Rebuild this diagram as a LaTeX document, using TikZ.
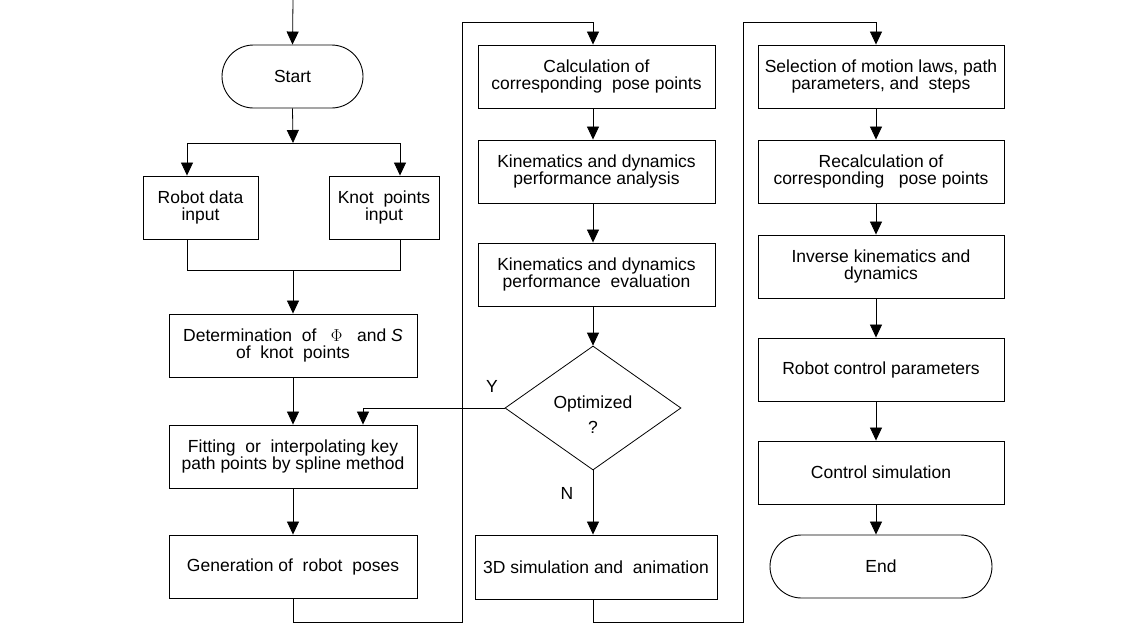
\documentclass[tikz,border=0pt]{standalone}
\usepackage{fontspec}
\setmainfont{Liberation Sans}
\usetikzlibrary{shapes.geometric,shapes.misc,arrows.meta}
\begin{document}
\begin{tikzpicture}[x=1pt,y=-1pt,
  every node/.style={font=\fontsize{17.5}{17}\selectfont, align=center},
  box/.style={draw, line width=0.9pt, minimum height=63pt, inner sep=0pt},
  term/.style={draw, rounded rectangle, line width=0.9pt, minimum height=63pt, inner sep=0pt},
  dec/.style={draw, diamond, line width=0.8pt, minimum width=176pt, minimum height=124pt, inner sep=0pt},
  arr/.style={line width=0.8pt, -{Triangle[length=13pt,width=12pt]}},
  ln/.style={line width=0.8pt},
  lab/.style={font=\fontsize{17.5}{17}\selectfont}]
\useasboundingbox (0,0) rectangle (1141,624);

% left column
\node[term, minimum width=141pt] (start) at (292.5,76.5) {Start};
\node[box, minimum width=115pt] (robot) at (200.5,207.5) {Robot data\\input};
\node[box, minimum width=110pt] (knot) at (384,207.5) {Knot~ points\\input};
\node[box, minimum width=248pt] (det) at (293,345.5) {Determination~ of~~ $\Phi$~~ and \textit{S}\\of~ knot~ points};
\node[box, minimum width=248pt] (fit) at (293,456.5) {Fitting~ or~ interpolating key\\path points by spline method};
\node[box, minimum width=248pt] (gen) at (293,566.5) {Generation of~ robot~ poses};

% middle column
\node[box, minimum width=237pt] (calc) at (596.5,76.5) {Calculation of\\corresponding~ pose points};
\node[box, minimum width=237pt] (kana) at (596.5,171.5) {Kinematics and dynamics\\performance analysis};
\node[box, minimum width=237pt] (keval) at (596.5,274.5) {Kinematics and dynamics\\performance~ evaluation};
\node[dec] (opt) at (593,408) {};
\node (opttxt) at (593,415) {Optimized\\[8pt]?};
\node[box, minimum width=242pt, minimum height=64pt] (sim) at (596,567) {3D simulation and~ animation};

% right column
\node[box, minimum width=246pt] (sel) at (881,76.5) {Selection of motion laws, path\\parameters, and~ steps};
\node[box, minimum width=246pt] (recalc) at (881,171.5) {Recalculation of\\corresponding~~ pose points};
\node[box, minimum width=246pt] (inv) at (881,266.5) {Inverse kinematics and\\dynamics};
\node[box, minimum width=246pt] (rcp) at (881,369.5) {Robot control parameters};
\node[box, minimum width=246pt] (csim) at (881,472.5) {Control simulation};
\node[term, minimum width=222pt] (end) at (881,566.5) {End};

% labels
\node[lab] (ylab) at (492,386) {Y};
\node[lab] (nlab) at (567,493) {N};

% connectors left
\coordinate (top) at (293,0);
\draw[arr] (top) -- (start.north);
\coordinate (split) at (293,143);
\draw[arr] (start.south) -- (split);
\coordinate (sL) at (187,143);
\coordinate (sR) at (400,143);
\draw[ln] (sL) -- (sR);
\draw[arr] (sL) -- (sL |- robot.north);
\draw[arr] (sR) -- (sR |- knot.north);
\coordinate (mL) at (187,270);
\coordinate (mR) at (400,270);
\coordinate (mid) at (293,270);
\draw[ln] (sL |- robot.south) -- (mL) -- (mR) -- (sR |- knot.south);
\draw[arr] (mid) -- (det.north);
\draw[arr] (det) -- (fit);
\draw[arr] (fit) -- (gen);

% gen -> calc
\coordinate (g1) at (293,622);
\coordinate (g2) at (462,622);
\coordinate (g3) at (462,22);
\coordinate (g4) at (593,22);
\draw[arr] (gen.south) -- (g1) -- (g2) -- (g3) -- (g4) -- (g4 |- calc.north);
\draw[arr] (calc.south -| g4) -- (kana.north -| g4);
\draw[arr] (kana.south -| g4) -- (keval.north -| g4);
\draw[arr] (keval.south -| g4) -- (opt.north);

% decision
\coordinate (y1) at (363,408);
\draw[arr] (opt.west) -- (y1) -- (y1 |- fit.north);
\draw[arr] (opt.south) -- (opt.south |- sim.north);

% sim -> sel
\coordinate (h1) at (593,622);
\coordinate (h2) at (743,622);
\coordinate (h3) at (743,22);
\coordinate (h4) at (876,22);
\draw[arr] (sim.south -| g4) -- (h1) -- (h2) -- (h3) -- (h4) -- (h4 |- sel.north);
\draw[arr] (sel.south -| h4) -- (recalc.north -| h4);
\draw[arr] (recalc.south -| h4) -- (inv.north -| h4);
\draw[arr] (inv.south -| h4) -- (rcp.north -| h4);
\draw[arr] (rcp.south -| h4) -- (csim.north -| h4);
\draw[arr] (csim.south -| h4) -- (end.north -| h4);
\end{tikzpicture}
\end{document}
